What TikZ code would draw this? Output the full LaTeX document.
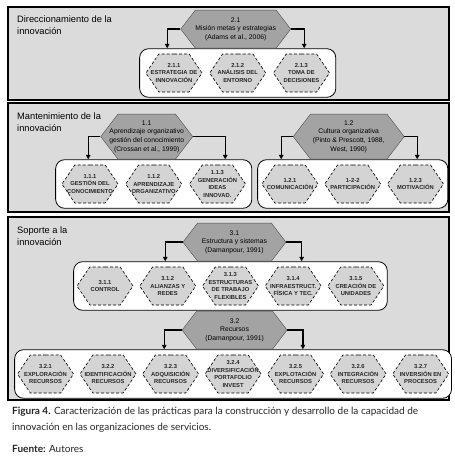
\documentclass[tikz,border=0pt]{standalone}
\usepackage{fontspec}
\setmainfont{Liberation Sans}
\newfontfamily\capfont{Lato}
\usetikzlibrary{arrows.meta,positioning,shapes.symbols,fit,backgrounds}
\definecolor{panelgray}{gray}{0.86}
\definecolor{hexgray}{gray}{0.83}
\definecolor{topgray}{gray}{0.64}
\tikzset{
  panel/.style  ={draw, line width=1.1pt, fill=panelgray},
  ptitle/.style ={anchor=north west, align=left, inner sep=0pt,
                  font=\fontsize{9.3}{11.5}\selectfont},
  grp/.style    ={draw, line width=0.8pt, fill=white, rounded corners=9pt,
                  inner ysep=5pt},
  tophex/.style ={signal, signal to=west and east, signal pointer angle=105,
                  draw=black!70, fill=topgray, align=center,
                  inner xsep=-14pt, inner ysep=0pt, minimum height=38pt,
                  font=\fontsize{6.8}{8.6}\selectfont},
  subhex/.style ={signal, signal to=west and east, signal pointer angle=112,
                  draw, dash pattern=on 3pt off 2pt, line width=0.6pt,
                  fill=hexgray, align=center, inner xsep=-12pt, inner ysep=0pt,
                  minimum width=56pt, minimum height=38pt, text=black!85,
                  font=\fontsize{5.8}{7.4}\selectfont\bfseries},
  farr/.style   ={-{Triangle[length=4.5pt,width=4.5pt]}, line width=1.3pt},
}
\begin{document}
\begin{tikzpicture}[x=1pt, y=-1pt, node distance=6pt]
\useasboundingbox (0,0) rectangle (455,469);

% the three frames
\begin{scope}[on background layer]
  \fill[white] (0,0) rectangle (455,469);
  \draw[panel] (8,7) rectangle (449,100);
  \draw[panel] (8,103) rectangle (449,212);
  \draw[panel] (8,217) rectangle (449,400);
\end{scope}

%% Direccionamiento
\node[ptitle] (t2) at (17,16) {Direccionamiento de la\\innovación};
\node[subhex] (h211) at (174,73) {2.1.1\\ESTRATEGIA DE\\INNOVACIÓN};
\node[subhex, right=7pt of h211] (h212) {2.1.2\\ANÁLISIS DEL\\ENTORNO};
\node[subhex, right=7pt of h212] (h213) {2.1.3\\TOMA DE\\DECISIONES};
\begin{scope}[on background layer]
  \node[grp, inner xsep=6pt, fit=(h211)(h213)] (g21) {};
\end{scope}
\node[tophex, minimum width=110pt, above=0pt of g21, xshift=-2pt] (h21)
  {2.1\\Misión metas y estrategias\\(Adams et al., 2006)};
\draw[farr] (h21.west) -| ([xshift=28pt]g21.north west);
\draw[farr] (h21.east) -| ([xshift=-32pt]g21.north east);

%% Mantenimiento
\node[ptitle] (t1) at (17,113) {Mantenimiento de la\\innovación};
\node[subhex] (h111) at (90,184) {1.1.1\\GESTIÓN DEL\\CONOCIMIENTO};
\node[subhex, right=7pt of h111] (h112) {1.1.2\\APRENDIZAJE\\ORGANIZATIVO};
\node[subhex, right=7pt of h112] (h113) {1.1.3\\GENERACIÓN\\IDEAS\\INNOVAD.};
\node[subhex] (h121) at (290,184) {1.2.1\\COMUNICACIÓN};
\node[subhex, right=of h121] (h122) {1-2-2\\PARTICIPACIÓN};
\node[subhex, right=of h122] (h123) {1.2.3\\MOTIVACIÓN};
\begin{scope}[on background layer]
  \node[grp, inner xsep=6pt, fit=(h111)(h113)] (g11) {};
  \node[grp, inner xsep=4pt, fit=(h121)(h123)] (g12) {};
\end{scope}
\node[tophex, minimum width=92pt, minimum height=45pt, above=0pt of g11, xshift=-7pt] (h11)
  {1.1\\Aprendizaje organizativo\\gestión del conocimiento\\(Crossan et al., 1999)};
\node[tophex, minimum width=111pt, minimum height=45pt, above=0pt of g12, xshift=-4pt] (h12)
  {1.2\\Cultura organizativa\\(Pinto \& Prescott, 1988,\\West, 1990)};
\draw[farr] (h11.west) -| ([xshift=33pt]g11.north west);
\draw[farr] (h11.east) -| ([xshift=-27pt]g11.north east);
\draw[farr] (h12.west) -| ([xshift=24pt]g12.north west);
\draw[farr] (h12.east) -| ([xshift=-31pt]g12.north east);

%% Soporte
\node[ptitle] (t3) at (17,227) {Soporte a la\\innovación};
\node[subhex] (h311) at (105,286) {3.1.1\\CONTROL};
\node[subhex, right=of h311] (h312) {3.1.2\\ALIANZAS Y\\REDES};
\node[subhex, right=of h312] (h313) {3.1.3\\ESTRUCTURAS\\DE TRABAJO\\FLEXIBLES};
\node[subhex, right=of h313] (h314) {3.1.4\\INFRAESTRUCT.\\FÍSICA Y TEC.};
\node[subhex, right=of h314] (h315) {3.1.5\\CREACIÓN DE\\UNIDADES};
\node[subhex] (h321) at (45.5,374) {3.2.1\\EXPLORACIÓN\\RECURSOS};
\node[subhex, right=5.8pt of h321] (h322) {3.2.2\\IDENTIFICACIÓN\\RECURSOS};
\node[subhex, right=5.8pt of h322] (h323) {3.2.3\\ADQUISICIÓN\\RECURSOS};
\node[subhex, right=5.8pt of h323] (h324) {3.2.4\\DIVERSIFICACIÓN\\PORTAFOLIO\\INVEST};
\node[subhex, right=5.8pt of h324] (h325) {3.2.5\\EXPLOTACIÓN\\RECURSOS};
\node[subhex, right=5.8pt of h325] (h326) {3.2.6\\INTEGRACIÓN\\RECURSOS};
\node[subhex, right=5.8pt of h326] (h327) {3.2.7\\INVERSIÓN EN\\PROCESOS};
\begin{scope}[on background layer]
  \node[grp, inner xsep=3pt, fit=(h311)(h315)] (g31) {};
  \node[grp, inner xsep=2.5pt, fit=(h321)(h327)] (g32) {};
\end{scope}
\node[tophex, minimum width=103pt, above=0pt of g31, xshift=4pt] (h31)
  {3.1\\Estructura y sistemas\\(Damanpour, 1991)};
\node[tophex, minimum width=105pt, above=0pt of g32, xshift=1.5pt] (h32)
  {3.2\\Recursos\\(Damanpour, 1991)};
\draw[farr] (h31.west) -| ([xshift=92pt]g31.north west);
\draw[farr] (h31.east) -| ([xshift=-86pt]g31.north east);
\draw[farr] (h32.west) -| ([xshift=150pt]g32.north west);
\draw[farr] (h32.east) -| ([xshift=-149pt]g32.north east);

% caption
\node[anchor=north west, inner sep=0pt, align=left, text=black!85,
      font=\capfont\fontsize{10}{16}\selectfont] (cap) at (12,407)
  {\textbf{Figura 4.} Caracterización de las prácticas para la construcción y desarrollo de la capacidad de\\
   innovación en las organizaciones de servicios.};
\node[anchor=north west, inner sep=0pt, text=black!85,
      font=\capfont\fontsize{10}{16}\selectfont] (src) at (12,445)
  {\textbf{Fuente:} Autores};
\end{tikzpicture}
\end{document}
